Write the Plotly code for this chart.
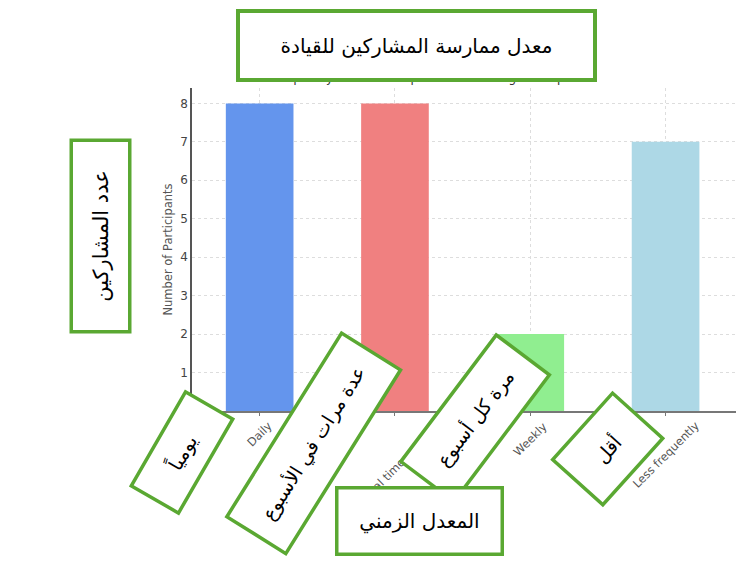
import plotly.graph_objects as go

# data
categories = ["Daily", "Several times a week", "Weekly", "Less frequently"]
participants = [8, 8, 2, 7]
bar_colors = ["#6495ED", "#F08080", "#90EE90", "#ADD8E6"]
y_ticks = [1, 2, 3, 4, 5, 6, 7, 8]

title_en = "Frequency of Leadership Practice Among Participants"
title_ar = "معدل ممارسة المشاركين للقيادة"
ylabel_ar = "عدد المشاركين"
xlabel_ar = "المعدل الزمني"
cat_ar = ["يومياً", "عدة مرات في الأسبوع", "مرة كل أسبوع", "أقل"]

# page has an 8px body margin, so the figure is a bit smaller than the window
OFF = 8
W, H = 744 - OFF, 568 - OFF
L, R, T, B = 184, 4, 80, 157
GREEN = "#5AA832"
AR_FONT = "DejaVu Sans"


def px(x, y):
    # page pixels -> paper coords
    x, y = x - OFF, y - OFF
    return (x - L) / (W - L - R), (H - B - y) / (H - T - B)


fig = go.Figure()
fig.add_trace(go.Bar(
    x=categories, y=participants, width=0.5,
    marker=dict(color=bar_colors, line=dict(width=0)),
    showlegend=False,
))

# x tick labels centred under the tick (matplotlib style rotation)
for c in categories:
    fig.add_annotation(text=c, x=c, y=0, xref="x", yref="y",
                       xanchor="center", yanchor="top", yshift=-5,
                       textangle=-45, showarrow=False,
                       font=dict(family="DejaVu Sans", size=11.5, color="#555555"))


def box(text, cx, cy, long_side, short_side, angle, size=20, bw=3.5):
    x, y = px(cx, cy)
    fig.add_annotation(
        text=text, x=x, y=y, xref="paper", yref="paper",
        xanchor="center", yanchor="middle", showarrow=False,
        textangle=angle,
        width=long_side - 2 * bw - 2, height=short_side - 2 * bw - 2,
        borderpad=1, borderwidth=bw, bordercolor=GREEN, bgcolor="white",
        font=dict(family=AR_FONT, size=size, color="black"),
    )


# english title, mostly hidden behind the arabic one
tx, ty = px(430, 78)
fig.add_annotation(text=title_en, x=tx, y=ty, xref="paper", yref="paper",
                   xanchor="center", yanchor="middle", showarrow=False,
                   font=dict(family="DejaVu Sans", size=12, color="#333333"))

box(title_ar, 416.5, 45.5, 361, 73, 0, size=20, bw=4)
box(ylabel_ar, 100, 236.5, 195, 62, -90, size=21)
box(cat_ar[0], 181.5, 452.7, 112, 58, -60, size=19)
box(cat_ar[1], 313.7, 443.7, 220, 73, -58, size=19)
box(cat_ar[2], 475.3, 418, 162, 70, -53, size=19)
box(cat_ar[3], 607, 449, 93, 71, -48, size=19)
box(xlabel_ar, 419.5, 521, 169, 70, 0, size=20)

fig.update_layout(
    width=W, height=H,
    margin=dict(l=L, r=R, t=T, b=B),
    paper_bgcolor="white", plot_bgcolor="white",
    font=dict(family="DejaVu Sans", size=10, color="#555555"),
    bargap=0.5,
)
fig.update_xaxes(
    range=[-0.5, 3.55], showline=True, linecolor="#777777", linewidth=1.5,
    showgrid=True, gridcolor="#dddddd", griddash="dot", gridwidth=1,
    ticks="outside", ticklen=3, tickcolor="#777777", showticklabels=False,
)
fig.update_yaxes(
    range=[0, 8.4], tickvals=y_ticks, showline=True, linecolor="#555555",
    linewidth=1.5, showgrid=True, gridcolor="#dddddd", griddash="dot",
    gridwidth=1, zeroline=False, ticks="", tickfont=dict(size=12, color="#444444"),
    title=dict(text="Number of Participants", font=dict(size=11.5, color="#555555"),
               standoff=5),
)

fig.write_html("out.html")
